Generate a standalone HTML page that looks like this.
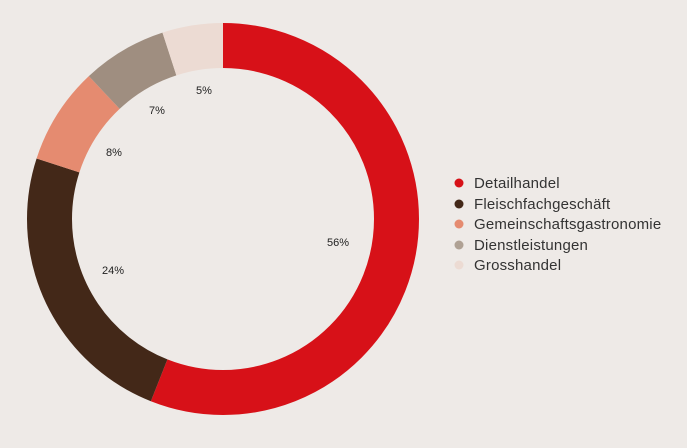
<!DOCTYPE html>
<html><head><style>
body{margin:0;background:#eeeae7;width:687px;height:443px;overflow:hidden;font-family:"Liberation Sans",sans-serif;}
</style></head><body>
<svg width="687" height="443" viewBox="0 0 687 443">
<rect width="687" height="443" fill="#eeeae7"/>
<g transform="rotate(-90 223 219)" fill="none" stroke-width="45">
<circle cx="223" cy="219" r="173.5" pathLength="100" stroke="#d71118" stroke-dasharray="56 44" stroke-dashoffset="0"/>
<circle cx="223" cy="219" r="173.5" pathLength="100" stroke="#432818" stroke-dasharray="24 76" stroke-dashoffset="-56"/>
<circle cx="223" cy="219" r="173.5" pathLength="100" stroke="#e58b70" stroke-dasharray="8 92" stroke-dashoffset="-80"/>
<circle cx="223" cy="219" r="173.5" pathLength="100" stroke="#9f8e80" stroke-dasharray="7 93" stroke-dashoffset="-88"/>
<circle cx="223" cy="219" r="173.5" pathLength="100" stroke="#ecdbd3" stroke-dasharray="5 95" stroke-dashoffset="-95"/>
</g>
<g font-size="11" fill="#222" text-anchor="middle">
<text x="204" y="94">5%</text>
<text x="157" y="114">7%</text>
<text x="114" y="156">8%</text>
<text x="113" y="274">24%</text>
<text x="338" y="246">56%</text>
</g>
<g font-size="15" fill="#333" letter-spacing="0.2">
<circle cx="459" cy="183" r="4.5" fill="#d71118"/><text x="474" y="188">Detailhandel</text>
<circle cx="459" cy="204" r="4.5" fill="#432818"/><text x="474" y="209">Fleischfachgeschäft</text>
<circle cx="459" cy="224" r="4.5" fill="#e58b70"/><text x="474" y="229">Gemeinschaftsgastronomie</text>
<circle cx="459" cy="245" r="4.5" fill="#9f8e80" opacity="0.8"/><text x="474" y="250">Dienstleistungen</text>
<circle cx="459" cy="265" r="4.5" fill="#ecdbd3"/><text x="474" y="270">Grosshandel</text>
</g>
</svg>
</body></html>
